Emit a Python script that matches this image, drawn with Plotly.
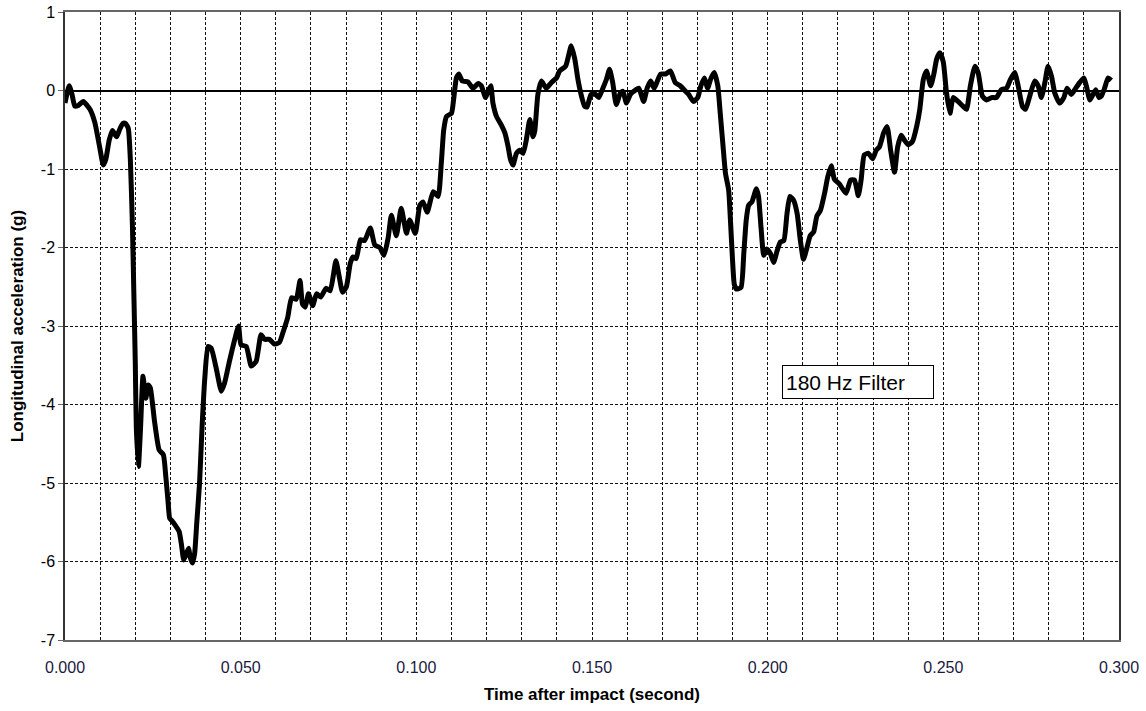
import plotly.graph_objects as go

time_s = [
    0.0000, 0.0012, 0.0020, 0.0028, 0.0038, 0.0052, 0.0071, 0.0085, 0.0099, 0.0109,
    0.0116, 0.0126, 0.0135, 0.0147, 0.0156, 0.0165, 0.0172, 0.0180, 0.0186, 0.0192,
    0.0196, 0.0200, 0.0203, 0.0209, 0.0215, 0.0222, 0.0230, 0.0237, 0.0243, 0.0255,
    0.0268, 0.0280, 0.0287, 0.0293, 0.0298, 0.0304, 0.0314, 0.0325, 0.0331, 0.0338,
    0.0345, 0.0352, 0.0356, 0.0363, 0.0369, 0.0375, 0.0383, 0.0390, 0.0398, 0.0407,
    0.0416, 0.0430, 0.0445, 0.0454, 0.0468, 0.0482, 0.0494, 0.0501, 0.0516, 0.0530,
    0.0544, 0.0558, 0.0568, 0.0582, 0.0596, 0.0610, 0.0622, 0.0634, 0.0645, 0.0658,
    0.0669, 0.0676, 0.0684, 0.0693, 0.0705, 0.0716, 0.0728, 0.0743, 0.0755, 0.0771,
    0.0780, 0.0790, 0.0801, 0.0812, 0.0820, 0.0829, 0.0841, 0.0853, 0.0869, 0.0882,
    0.0896, 0.0908, 0.0920, 0.0929, 0.0943, 0.0957, 0.0972, 0.0981, 0.0997, 0.1010,
    0.1019, 0.1031, 0.1048, 0.1062, 0.1071, 0.1078, 0.1086, 0.1100, 0.1106, 0.1114,
    0.1121, 0.1131, 0.1147, 0.1161, 0.1176, 0.1185, 0.1197, 0.1204, 0.1212, 0.1218,
    0.1228, 0.1242, 0.1252, 0.1261, 0.1268, 0.1275, 0.1285, 0.1294, 0.1304, 0.1313,
    0.1323, 0.1332, 0.1337, 0.1346, 0.1356, 0.1370, 0.1384, 0.1399, 0.1408, 0.1425,
    0.1441, 0.1451, 0.1460, 0.1470, 0.1479, 0.1486, 0.1497, 0.1510, 0.1519, 0.1531,
    0.1541, 0.1550, 0.1559, 0.1569, 0.1581, 0.1588, 0.1598, 0.1609, 0.1619, 0.1633,
    0.1647, 0.1657, 0.1667, 0.1677, 0.1695, 0.1709, 0.1723, 0.1737, 0.1751, 0.1766,
    0.1775, 0.1789, 0.1801, 0.1810, 0.1820, 0.1829, 0.1839, 0.1848, 0.1858, 0.1865,
    0.1873, 0.1880, 0.1889, 0.1894, 0.1900, 0.1905, 0.1911, 0.1924, 0.1932, 0.1939,
    0.1946, 0.1955, 0.1968, 0.1974, 0.1981, 0.1989, 0.1998, 0.2008, 0.2017, 0.2027,
    0.2036, 0.2046, 0.2055, 0.2063, 0.2074, 0.2084, 0.2093, 0.2102, 0.2112, 0.2121,
    0.2131, 0.2140, 0.2150, 0.2162, 0.2171, 0.2181, 0.2190, 0.2204, 0.2223, 0.2236,
    0.2247, 0.2258, 0.2266, 0.2275, 0.2287, 0.2299, 0.2309, 0.2318, 0.2330, 0.2340,
    0.2350, 0.2361, 0.2370, 0.2380, 0.2389, 0.2400, 0.2412, 0.2424, 0.2433, 0.2443,
    0.2452, 0.2464, 0.2473, 0.2481, 0.2490, 0.2500, 0.2509, 0.2519, 0.2528, 0.2542,
    0.2556, 0.2566, 0.2577, 0.2590, 0.2599, 0.2611, 0.2623, 0.2637, 0.2651, 0.2665,
    0.2680, 0.2691, 0.2703, 0.2713, 0.2725, 0.2734, 0.2746, 0.2760, 0.2770, 0.2779,
    0.2789, 0.2798, 0.2808, 0.2817, 0.2831, 0.2843, 0.2852, 0.2864, 0.2877, 0.2888,
    0.2900, 0.2907, 0.2917, 0.2926, 0.2934, 0.2943, 0.2950, 0.2959, 0.2969, 0.2978,
]

accel_g = [
    -0.16, 0.06, -0.05, -0.20, -0.19, -0.14, -0.24, -0.41, -0.73, -0.95,
    -0.88, -0.63, -0.51, -0.59, -0.49, -0.42, -0.42, -0.48, -0.88, -1.74,
    -2.59, -3.45, -4.30, -4.79, -4.30, -3.64, -3.92, -3.75, -3.79, -4.22,
    -4.58, -4.64, -4.92, -5.22, -5.45, -5.48, -5.54, -5.62, -5.77, -5.98,
    -5.90, -5.83, -5.94, -6.02, -5.90, -5.51, -5.00, -4.30, -3.66, -3.26,
    -3.28, -3.53, -3.83, -3.73, -3.45, -3.19, -3.00, -3.24, -3.26, -3.51,
    -3.45, -3.11, -3.17, -3.17, -3.23, -3.21, -3.06, -2.89, -2.64, -2.66,
    -2.42, -2.72, -2.76, -2.59, -2.74, -2.59, -2.63, -2.52, -2.55, -2.17,
    -2.36, -2.57, -2.50, -2.20, -2.12, -2.14, -1.90, -1.91, -1.75, -1.97,
    -2.00, -2.10, -1.87, -1.59, -1.85, -1.50, -1.82, -1.65, -1.82, -1.46,
    -1.42, -1.55, -1.29, -1.35, -0.93, -0.50, -0.33, -0.29, -0.12, 0.16,
    0.21, 0.12, 0.11, 0.03, 0.09, 0.06, -0.09, -0.01, 0.06, -0.16,
    -0.33, -0.44, -0.54, -0.71, -0.88, -0.95, -0.80, -0.76, -0.80, -0.63,
    -0.37, -0.59, -0.52, -0.05, 0.12, 0.03, 0.10, 0.16, 0.25, 0.31,
    0.57, 0.40, 0.14, -0.07, -0.20, -0.21, -0.05, -0.05, -0.09, 0.03,
    0.14, 0.27, 0.10, -0.18, -0.03, -0.01, -0.16, -0.05, -0.01, 0.03,
    -0.14, 0.03, 0.12, 0.03, 0.21, 0.21, 0.25, 0.10, 0.06, -0.01,
    -0.05, -0.14, -0.09, 0.06, 0.16, 0.03, 0.16, 0.23, 0.06, -0.29,
    -0.71, -1.06, -1.27, -1.65, -2.16, -2.47, -2.53, -2.51, -2.08, -1.65,
    -1.46, -1.42, -1.25, -1.35, -1.74, -2.10, -2.02, -2.08, -2.19, -2.04,
    -1.93, -1.91, -1.57, -1.35, -1.40, -1.57, -1.91, -2.15, -2.00, -1.85,
    -1.80, -1.60, -1.53, -1.31, -1.10, -0.96, -1.13, -1.19, -1.31, -1.14,
    -1.14, -1.34, -1.14, -0.82, -0.80, -0.87, -0.76, -0.72, -0.54, -0.46,
    -0.76, -1.04, -0.72, -0.57, -0.63, -0.69, -0.65, -0.46, -0.24, 0.14,
    0.25, 0.06, 0.21, 0.40, 0.48, 0.36, -0.03, -0.29, -0.09, -0.14,
    -0.20, -0.24, 0.06, 0.31, 0.23, -0.07, -0.12, -0.09, -0.09, 0.01,
    0.03, 0.14, 0.23, 0.06, -0.20, -0.24, -0.07, 0.12, 0.06, -0.09,
    0.10, 0.31, 0.18, -0.03, -0.16, -0.09, 0.03, -0.05, 0.03, 0.10,
    0.16, 0.06, -0.12, -0.05, 0.01, -0.09, -0.07, 0.03, 0.16, 0.13,
]

x_tick_vals = [0.0, 0.05, 0.10, 0.15, 0.20, 0.25, 0.30]
x_tick_text = ["0.000", "0.050", "0.100", "0.150", "0.200", "0.250", "0.300"]
y_tick_vals = [1, 0, -1, -2, -3, -4, -5, -6, -7]
y_tick_text = ["1", "0", "-1", "-2", "-3", "-4", "-5", "-6", "-7"]

x_title = "Time after impact (second)"
y_title = "Longitudinal acceleration (g)"
note_text = "180 Hz Filter"

FONT = "Liberation Sans, Arial, sans-serif"
GRID_DASH = "3px,2px"

fig = go.Figure()
fig.add_trace(go.Scatter(
    x=time_s, y=accel_g, mode="lines",
    line=dict(color="black", width=5, shape="spline", smoothing=0.5),
    showlegend=False, hoverinfo="skip",
))

fig.update_layout(
    width=1146, height=711,
    margin=dict(l=65, r=27, t=12, b=71),
    paper_bgcolor="white", plot_bgcolor="white",
    font=dict(family=FONT, color="black"),
)

fig.update_xaxes(
    range=[0, 0.3], automargin=False,
    tickvals=x_tick_vals, ticktext=x_tick_text,
    tickfont=dict(size=16, color="#1a1a40"),
    ticks="", ticklabelstandoff=12,
    showgrid=True, gridcolor="#111", gridwidth=1, griddash=GRID_DASH,
    minor=dict(dtick=0.01, tick0=0, showgrid=True, gridcolor="#111",
               gridwidth=1, griddash=GRID_DASH, ticks=""),
    showline=True, linecolor="#666", linewidth=1.5, mirror=True,
    zeroline=False,
    title=dict(text=f"<b>{x_title}</b>", font=dict(size=17), standoff=13),
)

fig.update_yaxes(
    range=[-7, 1], automargin=False,
    tickvals=y_tick_vals, ticktext=y_tick_text,
    tickfont=dict(size=16),
    ticks="outside", ticklen=5, tickcolor="#666",
    showgrid=True, gridcolor="#111", gridwidth=1, griddash=GRID_DASH,
    showline=True, linecolor="#333", linewidth=1.5, mirror=True,
    zeroline=True, zerolinecolor="black", zerolinewidth=2,
    title=dict(text=f"<b>{y_title}</b>", font=dict(size=17), standoff=13),
)

fig.add_annotation(
    x=0.2040, y=-3.50, xref="x", yref="y",
    xanchor="left", yanchor="top",
    text=note_text, showarrow=False,
    font=dict(size=21, family=FONT, color="black"),
    align="left", width=144, height=26,
    bordercolor="black", borderwidth=1, borderpad=3,
    bgcolor="white",
)

fig.write_html(
    "out.html",
    config={"displayModeBar": False},
    post_script="document.body.style.margin='0';document.body.style.overflow='hidden';",
)
